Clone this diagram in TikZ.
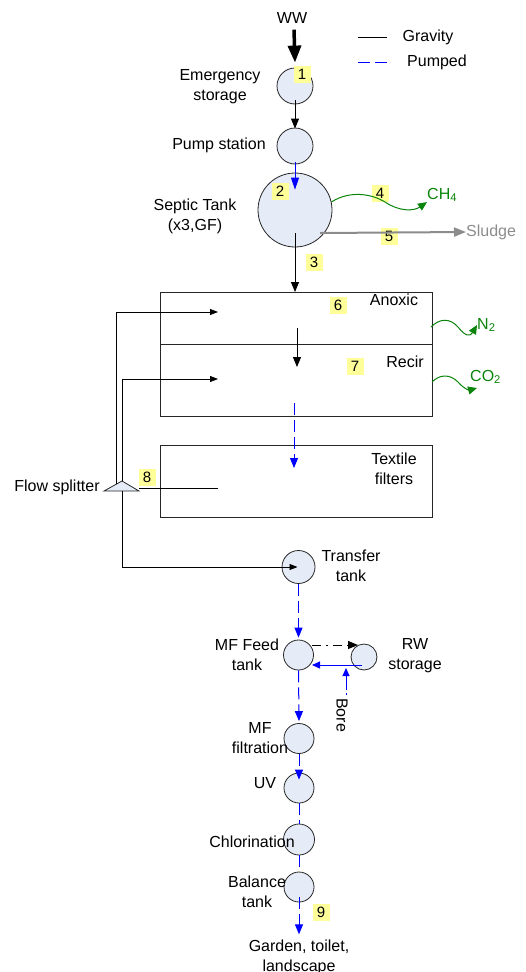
\documentclass[tikz,border=0pt]{standalone}
\usepackage{fontspec}
\setmainfont{Liberation Sans}
\usetikzlibrary{arrows.meta,calc}
\definecolor{tankfill}{HTML}{E6ECF7}
\definecolor{numyellow}{HTML}{FFFF99}
\definecolor{gasgreen}{HTML}{0A840A}
\definecolor{sludgegray}{HTML}{8C8C8C}
\begin{document}
\begin{tikzpicture}[x=1pt,y=-1pt,
  every node/.style={font=\fontsize{16}{20}\selectfont},
  tank/.style={circle,draw=black!85,line width=0.8pt,fill=tankfill,inner sep=0pt,minimum size=#1},
  num/.style={fill=numyellow,inner sep=0pt,minimum width=17pt,minimum height=17pt,font=\fontsize{15}{15}\selectfont},
  lbl/.style={align=center,inner sep=0pt},
  unit/.style={draw=black!85,line width=0.8pt,inner sep=0pt,minimum width=272pt,anchor=north west},
  grav/.style={black,line width=0.9pt,-{Triangle[length=10pt,width=8pt]}},
  gravsmall/.style={black,line width=0.8pt,-{Triangle[length=8pt,width=6pt]}},
  pumpline/.style={blue,line width=1pt,dash pattern=on 12pt off 5pt},
  pumped/.style={pumpline,-{Triangle[length=10pt,width=8pt]}},
  gas/.style={gasgreen,line width=1pt,-{Triangle[length=9pt,width=8pt]}}]
\useasboundingbox (0,0) rectangle (526,972);

% legend
\coordinate (lg1) at (358,37);
\coordinate (lg2) at (387,37);
\coordinate (lp1) at (358,62);
\coordinate (lp2) at (387,62);
\draw[black,line width=0.9pt] (lg1) -- (lg2);
\draw[pumpline] (lp1) -- (lp2);
\node[lbl] (gravity) at (428,37) {Gravity};
\node[lbl] (pumpedtxt) at (437,62) {Pumped};

% WW inlet
\node[lbl] (ww) at (292,18) {WW};

% tanks
\node[tank=36pt] (emerg) at (295,86) {};
\node[tank=36pt] (pumpst) at (295,146) {};
\node[tank=74pt] (septic) at (295,210) {};
\node[tank=33pt] (transfer) at (298.5,567) {};
\node[tank=30pt] (mffeed) at (298.5,655) {};
\node[tank=26pt] (rw) at (364,657) {};
\node[tank=30pt] (mffilt) at (299,738.5) {};
\node[tank=30pt] (uv) at (299,788) {};
\node[tank=31pt] (chlor) at (299,839.5) {};
\node[tank=30pt] (balance) at (299,887) {};

% process boxes
\node[unit,minimum height=52pt] (anoxic) at (160,292) {};
\node[unit,minimum height=72pt] (recir) at (160,344) {};
\node[unit,minimum height=72pt] (textile) at (160,445) {};

% flow splitter
\coordinate (spL) at (104,491);
\coordinate (spT) at (122,481);
\coordinate (spR) at (139,491);
\filldraw[fill=tankfill,draw=black!85,line width=0.8pt] (spL) -- (spT) -- (spR) -- cycle;

% text labels
\node[lbl] (emergtxt) at (220,87) {Emergency\\storage};
\node[lbl] (pumptxt) at (219,145) {Pump station};
\node[lbl] (septictxt) at (195,216) {Septic Tank\\(x3,GF)};
\node[lbl,text=gasgreen,anchor=west] (ch4) at (427,195) {CH\textsubscript{4}};
\node[lbl,text=sludgegray,anchor=west] (sludge) at (466,232) {Sludge};
\node[lbl] (anoxictxt) at (394,300) {Anoxic};
\node[lbl] (recirtxt) at (405,362) {Recir};
\node[lbl,text=gasgreen,anchor=west] (n2) at (477,325) {N\textsubscript{2}};
\node[lbl,text=gasgreen,anchor=west] (co2) at (470,377) {CO\textsubscript{2}};
\node[lbl] (textiletxt) at (394,469) {Textile\\filters};
\node[lbl] (splittxt) at (57,487) {Flow splitter};
\node[lbl] (transfertxt) at (351,566) {Transfer\\tank};
\node[lbl] (mffeedtxt) at (247,655) {MF Feed\\tank};
\node[lbl] (rwtxt) at (415,656) {RW\\storage};
\node[lbl,rotate=-90] (bore) at (342,715) {Bore};
\node[lbl] (mffilttxt) at (260,738) {MF\\filtration};
\node[lbl] (uvtxt) at (265,783) {UV};
\node[lbl] (chlortxt) at (252,842) {Chlorination};
\node[lbl] (balancetxt) at (257,892) {Balance\\tank};
\node[lbl] (garden) at (299,957) {Garden, toilet,\\landscape};

% number tags
\node[num] (n1) at (302,74) {1};
\node[num] (n2tag) at (280,191) {2};
\node[num] (n3) at (314,262) {3};
\node[num] (n4) at (380,193) {4};
\node[num] (n5) at (389,236) {5};
\node[num] (n6) at (338,305) {6};
\node[num] (n7) at (355,366) {7};
\node[num] (n8) at (147,477) {8};
\node[num] (n9) at (321,912) {9};

% connectors
\draw[black,line width=3.5pt,-{Triangle[length=17pt,width=13pt]}] (ww.south) ++(2,6) -- ($(emerg.north)+(0,-5)$);
\draw[grav] ($(emerg.south)+(0,-4)$) -- ($(pumpst.north)+(0,1)$);
\draw[blue,line width=1pt,-{Triangle[length=12pt,width=8pt]}] ($(pumpst.south)+(0,-2)$) -- ($(septic.north)+(0,17)$);
\draw[grav] ($(septic.center)+(0,23)$) -- (anoxic.north -| septic.center);
\draw[sludgegray,line width=2pt,-{Triangle[length=12pt,width=9pt]}] ($(septic.center)+(25,23)$) -- (sludge.west);
\draw[gas] ($(septic.east)+(-1,-8)$) .. controls (350,190) and (372,194) .. (385,202) .. controls (400,212) and (414,211) .. (ch4.south west);
% anoxic -> recir
\coordinate (axo) at (297,328);
\coordinate (rci) at (297,367);
\draw[grav] (axo) -- (rci);
\coordinate (rco) at (294,403);
\draw[pumped] (rco) -- ($(textile.north -| rco)+(0,23)$);
% gases
\draw[gas] (431,327) .. controls (440,318) and (450,318) .. (458,327) .. controls (465,336) and (470,337) .. (n2.west);
\draw[gas] (432,382) .. controls (440,374) and (450,374) .. (458,382) .. controls (465,390) and (470,390) .. ($(co2.west)+(7,11)$);
% recycle lines
\coordinate (txo) at (218,488);
\draw[black,line width=0.8pt] (txo) -- (spR |- txo);
\coordinate (axi) at (218,312);
\coordinate (rcin) at (218,379);
\draw[gravsmall] (116,484) -- (116,312) -- (axi);
\draw[gravsmall] (spT) -- (spT |- rcin) -- (rcin);
\draw[gravsmall] (122,491) -- (122,567) -- ($(transfer.center)+(-1,0)$);
% reuse train
\draw[pumped] (transfer.south) -- ($(mffeed.north)+(0,-2)$);
\draw[black,line width=1pt,dash pattern=on 9pt off 5pt on 2pt off 5pt,-{Triangle[length=10pt,width=8pt]}] (312,645) -- (358,645);
\draw[blue,line width=1pt,-{Triangle[length=8pt,width=7pt]}] (362,665) -- (312,665);
\draw[blue,line width=1pt,dash pattern=on 2pt off 3pt on 30pt,-{Triangle[length=8pt,width=7pt]}] ($(bore.west)+(4,-3)$) -- (346,668);
\draw[pumped] (mffeed.south) -- ($(mffilt.north)+(0,-2)$);
\draw[pumped] (mffilt.south) -- ($(uv.north)+(0,7)$);
\draw[pumpline] (uv.south) -- (chlor.north);
\draw[pumpline] (chlor.south) -- (balance.north);
\draw[pumped] ($(balance.south)+(0,-5)$) -- ($(garden.north)+(0,-5)$);
\end{tikzpicture}
\end{document}
